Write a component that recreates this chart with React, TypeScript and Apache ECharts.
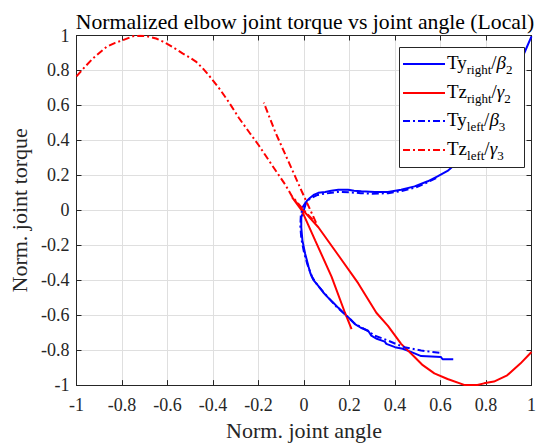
import React, { useEffect, useRef } from 'react';
import * as echarts from 'echarts';

const FONT = "'Liberation Serif', 'Times New Roman', serif";

const titleText = 'Normalized elbow joint torque vs joint angle (Local)';
const xName = 'Norm. joint angle';
const yName = 'Norm. joint torque';

const tyRight: [number, number][] = [
  [0.656, -0.852], [0.609, -0.852], [0.602, -0.839], [0.56, -0.836], [0.515, -0.834], [0.47, -0.81],
  [0.434, -0.792], [0.4, -0.783], [0.362, -0.764], [0.355, -0.751], [0.32, -0.735], [0.296, -0.717],
  [0.282, -0.689], [0.25, -0.672], [0.224, -0.651], [0.205, -0.625], [0.187, -0.604], [0.151, -0.558],
  [0.13, -0.53], [0.107, -0.501], [0.085, -0.47], [0.071, -0.445], [0.041, -0.398], [0.028, -0.36],
  [0.02, -0.323], [0.005, -0.248], [-0.007, -0.172], [-0.012, -0.097], [-0.012, -0.041], [-0.002, -0.003],
  [0.012, 0.053], [0.027, 0.072], [0.045, 0.09], [0.063, 0.1], [0.093, 0.105], [0.12, 0.112],
  [0.151, 0.118], [0.194, 0.118], [0.22, 0.112], [0.252, 0.109], [0.311, 0.105], [0.369, 0.105],
  [0.427, 0.118], [0.486, 0.137], [0.544, 0.166], [0.587, 0.194], [0.631, 0.225], [0.68, 0.28],
  [0.72, 0.33], [0.76, 0.39], [0.8, 0.46], [0.84, 0.54], [0.88, 0.63], [0.92, 0.73], [0.952, 0.85],
  [0.975, 0.92], [1.0, 0.995],
];

const tzRight: [number, number][] = [
  [0.209, -0.68], [0.18, -0.586], [0.121, -0.379], [0.049, -0.172], [-0.01, 0.0], [-0.053, 0.075],
  [-0.002, -0.003], [0.063, -0.097], [0.151, -0.257], [0.238, -0.417], [0.318, -0.586], [0.369, -0.661],
  [0.427, -0.764], [0.486, -0.839], [0.522, -0.886], [0.573, -0.933], [0.631, -0.965], [0.704, -0.999],
  [0.762, -0.999], [0.791, -0.99], [0.835, -0.98], [0.893, -0.944], [0.951, -0.877], [1.0, -0.811],
];

const tyLeft: [number, number][] = [
  [0.595, -0.815], [0.56, -0.81], [0.515, -0.802], [0.442, -0.783], [0.405, -0.765], [0.369, -0.745],
  [0.311, -0.717], [0.28, -0.69], [0.25, -0.668], [0.22, -0.645], [0.185, -0.6], [0.145, -0.555],
  [0.1, -0.49], [0.06, -0.43], [0.035, -0.38], [0.015, -0.31], [0.0, -0.24], [-0.012, -0.16],
  [-0.016, -0.09], [-0.014, -0.03], [-0.005, 0.02], [0.01, 0.05], [0.03, 0.07], [0.06, 0.088],
  [0.09, 0.095], [0.15, 0.105], [0.2, 0.103], [0.25, 0.098], [0.3, 0.095], [0.37, 0.098],
  [0.43, 0.11], [0.49, 0.13], [0.54, 0.158], [0.59, 0.19],
];

const tzLeft: [number, number][] = [
  [-1.0, 0.766], [-0.96, 0.825], [-0.927, 0.87], [-0.9, 0.9], [-0.868, 0.935], [-0.83, 0.958],
  [-0.796, 0.973], [-0.752, 0.996], [-0.72, 0.999], [-0.693, 0.996], [-0.65, 0.983], [-0.62, 0.965],
  [-0.592, 0.945], [-0.56, 0.92], [-0.534, 0.898], [-0.505, 0.876], [-0.475, 0.851], [-0.445, 0.812],
  [-0.417, 0.77], [-0.373, 0.698], [-0.33, 0.618], [-0.286, 0.528], [-0.24, 0.445], [-0.199, 0.372],
  [-0.141, 0.259], [-0.082, 0.146], [-0.053, 0.081], [0.0, 0.0], [0.056, -0.079], [-0.01, 0.109],
  [-0.068, 0.278], [-0.126, 0.447], [-0.177, 0.616],
];

const seriesNames = ['Ty_right/β2', 'Tz_right/γ2', 'Ty_left/β3', 'Tz_left/γ3'];
const legendLabels = [
  'Ty{sub|right}/{g|β}{sub|2}',
  'Tz{sub|right}/{g|γ}{sub|2}',
  'Ty{sub|left}/{g|β}{sub|3}',
  'Tz{sub|left}/{g|γ}{sub|3}',
];
const seriesData = [tyRight, tzRight, tyLeft, tzLeft];
const seriesColors = ['#0000ff', '#ff0000', '#0000ff', '#ff0000'];
const DASHDOT = [7, 3, 2, 3];
const seriesDash: any[] = ['solid', 'solid', DASHDOT, DASHDOT];

export default function App() {
  const ref = useRef<HTMLDivElement>(null);
  useEffect(() => {
    if (!ref.current) return;
    const chart = echarts.init(ref.current, undefined, { renderer: 'svg' });
    const fmt = (v: number) => String(Math.round(v * 10) / 10);
    const axisCommon = {
      type: 'value' as const,
      min: -1,
      max: 1,
      interval: 0.2,
    };
    const rowY = [64, 93, 121, 150];
    const legendGraphics: any[] = [
      {
        type: 'rect',
        z: 100,
        shape: { x: 399.5, y: 47.5, width: 125, height: 120 },
        style: { fill: '#ffffff', stroke: '#262626', lineWidth: 1 },
      },
    ];
    legendLabels.forEach((lbl, i) => {
      legendGraphics.push({
        type: 'line',
        z: 101,
        shape: { x1: 403, y1: rowY[i], x2: 445, y2: rowY[i] },
        style: {
          stroke: seriesColors[i],
          lineWidth: 2,
          lineDash: seriesDash[i] === 'solid' ? null : seriesDash[i],
        },
      });
      legendGraphics.push({
        type: 'text',
        z: 101,
        x: 447,
        y: rowY[i] - 2,
        style: {
          text: lbl,
          fontFamily: FONT,
          fontSize: 19,
          fill: '#000000',
          verticalAlign: 'middle',
          align: 'left',
          rich: {
            sub: { fontFamily: FONT, fontSize: 13, fill: '#000', padding: [14, 0, 0, 0] },
            g: { fontFamily: FONT, fontSize: 19, fontStyle: 'italic', fill: '#000' },
          },
        },
      });
    });
    chart.setOption({
      animation: false,
      backgroundColor: '#ffffff',
      grid: { left: 76.5, right: 5, top: 35.5, bottom: 56, containLabel: false },
      graphic: [
        {
          type: 'text',
          x: 305,
          y: 22,
          style: {
            text: titleText,
            fontFamily: FONT,
            fontSize: 21.7,
            fill: '#000000',
            align: 'center',
            verticalAlign: 'middle',
          },
        },
        ...legendGraphics,
      ],
      xAxis: [
        {
          ...axisCommon,
          position: 'bottom',
          name: xName,
          nameLocation: 'middle',
          nameGap: 33,
          nameTextStyle: { fontFamily: FONT, fontSize: 22, color: '#262626' },
          axisLine: { show: true, onZero: false, lineStyle: { color: '#262626', width: 1 } },
          axisTick: { show: true, inside: true, length: 5, lineStyle: { color: '#262626' } },
          axisLabel: { margin: 11, fontFamily: FONT, fontSize: 18, color: '#262626', formatter: fmt, showMinLabel: true, showMaxLabel: true },
          splitLine: { show: true, lineStyle: { color: '#dfdfdf', width: 1 } },
        },
        {
          ...axisCommon,
          position: 'top',
          axisLine: { show: true, onZero: false, lineStyle: { color: '#262626', width: 1 } },
          axisTick: { show: true, inside: true, length: 5, lineStyle: { color: '#262626' } },
          axisLabel: { show: false },
          splitLine: { show: false },
        },
      ],
      yAxis: [
        {
          ...axisCommon,
          position: 'left',
          name: yName,
          nameLocation: 'middle',
          nameGap: 37,
          nameTextStyle: { fontFamily: FONT, fontSize: 22, color: '#262626' },
          axisLine: { show: true, onZero: false, lineStyle: { color: '#262626', width: 1 } },
          axisTick: { show: true, inside: true, length: 5, lineStyle: { color: '#262626' } },
          axisLabel: { margin: 7, fontFamily: FONT, fontSize: 18, color: '#262626', formatter: fmt, showMinLabel: true, showMaxLabel: true },
          splitLine: { show: true, lineStyle: { color: '#dfdfdf', width: 1 } },
        },
        {
          ...axisCommon,
          position: 'right',
          axisLine: { show: true, onZero: false, lineStyle: { color: '#262626', width: 1 } },
          axisTick: { show: true, inside: true, length: 5, lineStyle: { color: '#262626' } },
          axisLabel: { show: false },
          splitLine: { show: false },
        },
      ],
      series: seriesData.map((d, i) => ({
        name: seriesNames[i],
        type: 'line',
        xAxisIndex: 0,
        yAxisIndex: 0,
        data: d,
        showSymbol: false,
        symbol: 'none',
        smooth: false,
        clip: true,
        lineStyle: { color: seriesColors[i], width: 2, type: seriesDash[i] },
        itemStyle: { color: seriesColors[i] },
      })),
    });
    return () => chart.dispose();
  }, []);
  return <div ref={ref} style={{ width: 539, height: 446, position: 'absolute', left: 0, top: 0 }} />;
}
